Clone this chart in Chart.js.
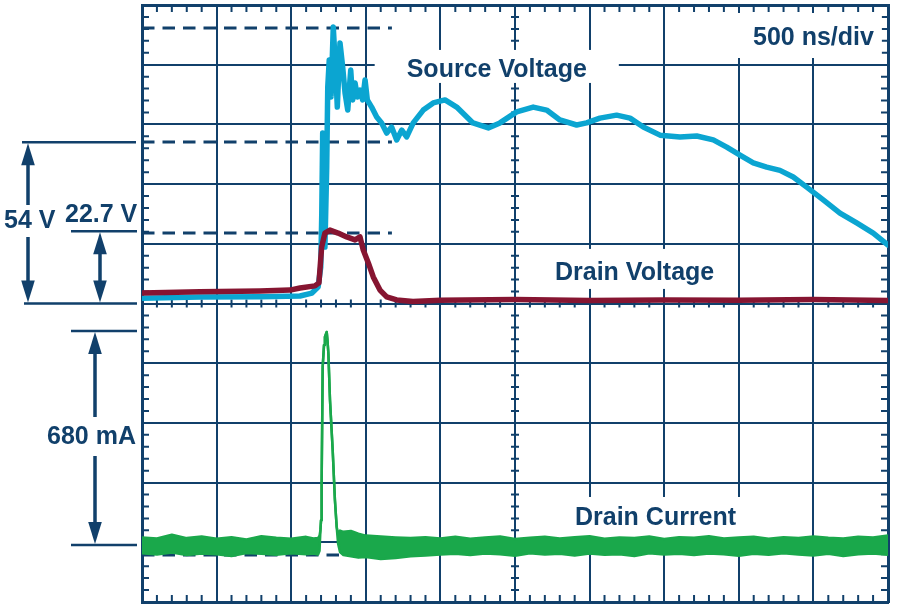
<!DOCTYPE html>
<html>
<head>
<meta charset="utf-8">
<script src="https://cdn.jsdelivr.net/npm/chart.js@4.4.1/dist/chart.umd.min.js"></script>
<style>html,body{margin:0;padding:0;background:#fff}canvas{display:block}</style>
</head>
<body>
<canvas id="c" width="897" height="608" style="width:897px;height:608px"></canvas>
<script>
// ---- Data (time in ns, voltage in V, current in mA) ----
const tSourceV = [0,389,791,1059,1139,1180,1198,1205,1211,1220,1226,1238,1245,1255,1267,1282,1300,1309,1327,1345,1361,1379,1399,1412,1428,1443,1461,1479,1495,1510,1539,1573,1606,1640,1673,1707,1741,1774,1818,1885,1952,2031,2109,2218,2321,2399,2511,2622,2712,2801,2913,2980,3069,3181,3271,3360,3472,3606,3718,3829,3919,4008,4097,4187,4276,4365,4455,4566,4678,4790,4901,5000];
const sourceV  = [1.8,2.2,2.3,2.5,3.5,5.5,12.2,30.3,57.1,40.3,18.9,45.7,72.5,81.6,69.2,92.6,75.9,65.8,87.3,79.2,70.5,64.8,78.2,68.2,73.9,69.2,71.5,68.2,74.9,68.2,65.8,62.5,60.5,57.1,59.1,54.8,58.1,55.8,60.5,64.8,67.2,68.2,65.8,60.5,58.8,60.5,64.2,65.8,64.8,61.5,59.8,60.5,62.1,63.1,62.1,59.1,56.4,55.8,56.1,54.8,52.4,49.7,47.1,45.7,44.6,42.4,39.0,34.7,30.3,27.0,23.6,19.6];

const tDrainV = [0,389,791,992,1059,1159,1186,1204,1226,1260,1314,1372,1428,1461,1483,1517,1550,1595,1640,1707,1816,2000,2500,3000,3500,4000,4500,5000];
const drainV  = [3.5,3.9,4.2,4.5,5.2,5.9,6.9,18.9,23.6,24.6,23.6,22.3,21.3,22.3,17.9,13.6,8.9,4.5,2.2,1.2,0.7,1.1,1.3,1.0,1.2,1.1,1.3,1.0];

const tCurrent = [0,100,200,300,400,500,600,700,800,900,1000,1100,1150,1180,1190,1196,1200,1204,1211,1220,1226,1238,1243,1249,1260,1278,1293,1305,1314,1327,1350,1400,1450,1500,1600,1700,1800,1900,2000,2100,2200,2300,2400,2500,2600,2700,2800,2900,3000,3100,3200,3300,3400,3500,3600,3700,3800,3900,4000,4100,4200,4300,4400,4500,4600,4700,4800,4900,5000];
const currentUpper = [24,21,33,22,27,20,25,18,28,23,20,26,21,22,30,48,79,197,566,636,661,677,652,610,461,302,143,57,35,46,42,45,36,30,27,24,22,25,21,26,20,24,27,19,23,26,21,25,28,20,24,22,27,19,25,23,28,21,24,26,20,25,22,27,23,21,26,24,30];
const currentLower = [-26,-30,-24,-32,-27,-29,-35,-25,-28,-31,-26,-29,-27,-30,-18,48,79,197,566,636,661,677,652,610,461,302,143,57,5,-22,-32,-36,-40,-38,-44,-41,-36,-33,-30,-28,-32,-27,-29,-34,-26,-30,-28,-33,-27,-31,-29,-35,-26,-30,-28,-32,-27,-29,-34,-28,-31,-26,-30,-33,-28,-35,-29,-27,-31];

// reference (dashed) levels
const refVolts = [92.3, 54.1, 23.6];
const refCurrent = [-32];
const refEndTime = 1675;

// labels
const timeBaseLabel = '500 ns/div';
const traceLabels = ['Source Voltage', 'Drain Voltage', 'Drain Current'];
const markLabels = ['54 V', '22.7 V', '680 mA'];

// ---- Styling ----
const NAVY = '#11406b';
const CYAN = '#0ba5d1';
const MAROON = '#861531';
const GREEN = '#1aa84b';
const FONT = 'bold 25px "Liberation Sans", Arial, sans-serif';

const zip = (xs, ys) => xs.map((x, i) => ({x, y: ys[i]}));

function arrowHead(ctx, x, tip, dir) {
  // dir = -1 : pointing up ; +1 : pointing down
  const L = 22, W = 6.8;
  ctx.beginPath();
  ctx.moveTo(x, tip);
  ctx.lineTo(x - W, tip - dir * L);
  ctx.lineTo(x + W, tip - dir * L);
  ctx.closePath();
  ctx.fill();
}

const scopePlugin = {
  id: 'scope',
  beforeDatasetsDraw(chart) {
    const {ctx, chartArea: a, scales} = chart;
    const sx = scales.x, sy = scales.y, sI = scales.yI;
    ctx.save();
    ctx.strokeStyle = NAVY;
    ctx.lineWidth = 2;
    const cx = sx.getPixelForValue(2500), cy = sy.getPixelForValue(0);
    ctx.beginPath();
    for (let t = 100; t < 5000; t += 100) {
      if (t % 500 === 0) continue;
      const px = sx.getPixelForValue(t);
      ctx.moveTo(px, a.top); ctx.lineTo(px, a.top + 7);
      ctx.moveTo(px, a.bottom); ctx.lineTo(px, a.bottom - 7);
      ctx.moveTo(px, cy - 4); ctx.lineTo(px, cy + 4);
    }
    for (let v = -96; v < 100; v += 4) {
      if (v % 20 === 0) continue;
      const py = sy.getPixelForValue(v);
      ctx.moveTo(a.left, py); ctx.lineTo(a.left + 7, py);
      ctx.moveTo(a.right, py); ctx.lineTo(a.right - 7, py);
      ctx.moveTo(cx - 4, py); ctx.lineTo(cx + 4, py);
    }
    ctx.stroke();

    // dashed reference lines
    ctx.setLineDash([12.5, 8]);
    ctx.lineWidth = 3;
    const x0 = sx.getPixelForValue(0), x1 = sx.getPixelForValue(refEndTime);
    ctx.beginPath();
    refVolts.forEach(v => { const py = sy.getPixelForValue(v); ctx.moveTo(x0, py); ctx.lineTo(x1, py); });
    refCurrent.forEach(v => { const py = sI.getPixelForValue(v); ctx.moveTo(x0, py); ctx.lineTo(x1, py); });
    ctx.stroke();
    ctx.setLineDash([]);

    // labels with white boxes
    ctx.font = FONT;
    ctx.textBaseline = 'alphabetic';
    ctx.textAlign = 'left';
    const items = [
      {text: timeBaseLabel,  t: 4095, v: 86.6,  pl: 20, pr: 8,  pt: 32, pb: 13},
      {text: traceLabels[0], t: 1774, v: 75.9,  pl: 32, pr: 32, pt: 27, pb: 6},
      {text: traceLabels[1], t: 2768, v: 7.9,   pl: 8,  pr: 8,  pt: 31, pb: 9},
      {text: traceLabels[2], t: 2902, v: -74.2, pl: 8,  pr: 8,  pt: 28, pb: 14}
    ];
    items.forEach(it => {
      const px = sx.getPixelForValue(it.t), py = sy.getPixelForValue(it.v);
      const w = ctx.measureText(it.text).width;
      ctx.fillStyle = '#fff';
      ctx.fillRect(px - it.pl, py - it.pt, w + it.pl + it.pr, it.pt + it.pb);
      ctx.fillStyle = NAVY;
      ctx.fillText(it.text, px, py);
    });
    ctx.restore();
  },
  afterDraw(chart) {
    const {ctx, scales} = chart;
    const sy = scales.y, sI = scales.yI;
    ctx.save();
    ctx.strokeStyle = NAVY;
    ctx.fillStyle = NAVY;
    const y54 = sy.getPixelForValue(54), y0 = sy.getPixelForValue(0);
    const y227 = sy.getPixelForValue(24.2);
    const yA = sI.getPixelForValue(680), yA0 = sI.getPixelForValue(0);
    // horizontal marker lines
    ctx.lineWidth = 2.5;
    ctx.beginPath();
    ctx.moveTo(22, y54); ctx.lineTo(136, y54);
    ctx.moveTo(24, y0); ctx.lineTo(137, y0);
    ctx.moveTo(71, y227); ctx.lineTo(137, y227);
    ctx.moveTo(71, yA); ctx.lineTo(137, yA);
    ctx.moveTo(71, yA0); ctx.lineTo(137, yA0);
    ctx.stroke();
    // shafts
    ctx.lineWidth = 3.5;
    ctx.beginPath();
    ctx.moveTo(28, y54 + 15); ctx.lineTo(28, 205);
    ctx.moveTo(28, 237); ctx.lineTo(28, y0 - 15);
    ctx.moveTo(100, y227 + 15); ctx.lineTo(100, y0 - 15);
    ctx.moveTo(95, yA + 15); ctx.lineTo(95, 417);
    ctx.moveTo(95, 456); ctx.lineTo(95, yA0 - 15);
    ctx.stroke();
    arrowHead(ctx, 28, y54 + 1, -1);
    arrowHead(ctx, 28, y0 - 1, 1);
    arrowHead(ctx, 100, y227 + 1, -1);
    arrowHead(ctx, 100, y0 - 1, 1);
    arrowHead(ctx, 95, yA + 1, -1);
    arrowHead(ctx, 95, yA0 - 1, 1);
    // texts
    ctx.font = FONT;
    ctx.textBaseline = 'alphabetic';
    ctx.textAlign = 'left';
    ctx.fillText(markLabels[0], 4, 228);
    ctx.fillText(markLabels[1], 65, 222);
    ctx.fillText(markLabels[2], 47, 444);
    ctx.restore();
  }
};

const gridOpts = {color: NAVY, lineWidth: 2, drawTicks: false};
const borderOpts = {display: true, color: NAVY, width: 3};

new Chart(document.getElementById('c'), {
  type: 'line',
  data: {
    datasets: [
      {label: 'Drain Voltage', data: zip(tDrainV, drainV), borderColor: MAROON, borderWidth: 5.5, yAxisID: 'y', fill: false},
      {label: 'Source Voltage', data: zip(tSourceV, sourceV), borderColor: CYAN, borderWidth: 5.5, yAxisID: 'y', fill: false},
      {label: 'Drain Current (upper)', data: zip(tCurrent, currentUpper), borderColor: GREEN, borderWidth: 2.5, yAxisID: 'yI', fill: false},
      {label: 'Drain Current (lower)', data: zip(tCurrent, currentLower), borderColor: GREEN, backgroundColor: GREEN, borderWidth: 2.5, yAxisID: 'yI', fill: '-1'}
    ]
  },
  options: {
    responsive: false,
    animation: false,
    devicePixelRatio: 1,
    layout: {padding: {left: 142, top: 5, right: 9, bottom: 6}},
    plugins: {legend: {display: false}, tooltip: {enabled: false}},
    elements: {point: {radius: 0}, line: {tension: 0, borderJoinStyle: 'round', borderCapStyle: 'round'}},
    scales: {
      x: {type: 'linear', position: 'bottom', min: 0, max: 5000, ticks: {stepSize: 500, display: false}, grid: gridOpts, border: borderOpts},
      y: {type: 'linear', position: 'left', min: -100, max: 100, ticks: {stepSize: 20, display: false}, grid: gridOpts, border: borderOpts},
      yI: {type: 'linear', display: false, min: -181, max: 1716},
      xTop: {type: 'linear', position: 'top', min: 0, max: 5000, ticks: {display: false}, grid: {display: false, drawTicks: false}, border: borderOpts},
      yRight: {type: 'linear', position: 'right', min: 0, max: 1, ticks: {display: false}, grid: {display: false, drawTicks: false}, border: borderOpts}
    }
  },
  plugins: [scopePlugin]
});
</script>
</body>
</html>
